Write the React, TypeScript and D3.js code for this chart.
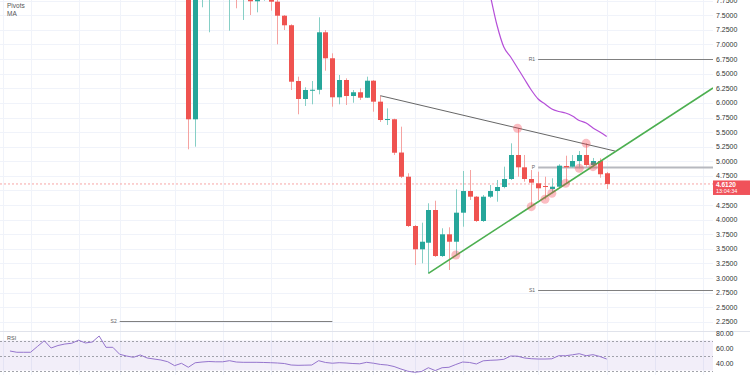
import { useEffect, useRef } from "react";
import * as d3 from "d3";

// candles, index 0 = first candle drawn at the left of the drop
const opens = [8.6, 5.719, 8.1, 8.0, 8.2, 8.1, 7.95, 8.1, 7.9, 8.0, 7.74, 7.8, 7.9, 7.733, 7.493, 7.33, 6.375, 6.067, 6.221, 6.225, 7.209, 6.764, 6.096, 6.392, 6.118, 6.182, 6.089, 6.38, 6.021, 5.707, 5.72, 5.15, 4.736, 3.892, 3.493, 3.606, 4.166, 3.378, 3.75, 3.623, 4.12, 4.491, 4.394, 3.978, 4.394, 4.491, 4.56, 4.697, 5.108, 4.897, 4.697, 4.623, 4.577, 4.526, 4.565, 4.92, 4.908, 5.005, 5.108, 4.937, 5.005, 4.795];
const highs = [8.8, 8.7, 8.5, 8.4, 8.3, 8.3, 8.2, 8.2, 8.1, 8.05, 8.0, 7.98, 7.95, 7.78, 7.505, 7.346, 6.449, 6.267, 6.375, 7.466, 7.248, 6.849, 6.478, 6.421, 6.221, 6.25, 6.449, 6.392, 6.123, 5.907, 5.73, 5.593, 4.795, 3.909, 3.949, 4.281, 4.325, 3.853, 3.87, 4.521, 4.834, 4.851, 4.406, 4.423, 4.594, 4.68, 4.908, 5.308, 5.565, 5.108, 4.851, 4.822, 4.736, 4.709, 4.949, 5.096, 5.108, 5.176, 5.308, 5.057, 5.051, 4.817];
const lows = [5.205, 5.25, 7.637, 7.209, 7.9, 7.85, 7.236, 7.62, 7.42, 7.505, 7.551, 7.75, 7.579, 7.003, 7.248, 6.221, 5.805, 5.947, 5.976, 6.147, 6.551, 5.935, 5.976, 5.964, 6.003, 6.05, 6.084, 5.849, 5.673, 5.622, 5.108, 4.714, 3.875, 3.224, 3.253, 3.082, 3.361, 3.361, 3.139, 3.396, 3.88, 4.337, 3.961, 3.961, 4.372, 4.308, 4.538, 4.68, 4.736, 4.651, 4.223, 4.337, 4.35, 4.452, 4.548, 4.623, 4.885, 4.88, 4.902, 4.908, 4.719, 4.526];
const closes = [5.719, 8.4, 8.3, 8.2, 8.0, 7.95, 8.1, 7.9, 8.0, 7.74, 7.95, 7.9, 7.733, 7.493, 7.329, 6.363, 6.067, 6.221, 6.225, 7.209, 6.764, 6.096, 6.392, 6.118, 6.182, 6.089, 6.38, 6.021, 5.707, 5.724, 5.147, 4.736, 3.892, 3.493, 3.623, 4.166, 3.378, 3.75, 3.623, 4.12, 4.491, 4.394, 3.978, 4.394, 4.491, 4.56, 4.697, 5.108, 4.897, 4.697, 4.634, 4.538, 4.567, 4.565, 4.925, 4.897, 5.005, 5.108, 4.937, 5.005, 4.778, 4.612];

const maStart = 43;
const maValues = [8.3, 7.848, 7.334, 6.957, 6.786, 6.598, 6.409, 6.221, 6.067, 5.981, 5.896, 5.853, 5.827, 5.776, 5.699, 5.656, 5.57, 5.502, 5.425];

const rsiStart = -26;
const rsiValues = [56.0, 54.3, 54.3, 54.3, 62.0, 69.7, 60.0, 63.3, 65.3, 66.3, 70.4, 66.7, 68.0, 76.0, 60.9, 60.9, 51.6, 49.3, 47.6, 50.7, 46.7, 45.3, 44.0, 41.7, 36.5, 39.6, 34.3, 40.3, 41.3, 42.0, 41.6, 41.6, 43.1, 41.3, 40.9, 40.9, 40.9, 40.7, 40.4, 40.0, 39.3, 37.3, 36.9, 37.1, 37.3, 43.1, 40.7, 39.7, 40.4, 40.0, 39.3, 38.9, 40.9, 39.7, 38.1, 37.3, 35.3, 32.0, 29.1, 27.6, 28.7, 33.7, 29.9, 33.7, 34.3, 38.0, 41.3, 40.7, 38.7, 42.9, 43.6, 44.0, 44.9, 49.3, 49.1, 46.7, 45.7, 45.3, 45.3, 45.6, 49.7, 49.7, 50.9, 52.4, 49.7, 51.1, 48.7, 45.3];

const priceTicks = [2.25, 2.5, 2.75, 3.0, 3.25, 3.5, 3.75, 4.0, 4.25, 4.5, 4.75, 5.0, 5.25, 5.5, 5.75, 6.0, 6.25, 6.5, 6.75, 7.0, 7.25, 7.5, 7.75];
const rsiTicks = [80, 60, 40];
const rsiLevels = [70, 50, 30];
const gridIdx = [-27, -23, -16, -10, -2, 5, 12, 21, 27, 33, 40, 51, 61, 68, 75];

const pivotNames = ["R1", "P", "S1", "S2"];
const pivotValues = [6.752, 4.908, 2.796, 2.27];
const pivotFrom = [51, 51, 51, -10];
const pivotTo = [76.5, 76.5, 76.5, 21];

const resistance: [number, number][] = [[28, 6.123], [62.2, 5.176]];
const support: [number, number][] = [[35, 3.082], [76.5, 6.255]];
const markerLows = [39, 50, 52, 53, 55, 57, 59];
const markerHighs = [48, 58];

const lastPrice = 4.612;
const countdown = "13:04:34";

export default function App() {
  const ref = useRef<SVGSVGElement>(null);

  useEffect(() => {
    if (!ref.current) return;
    const svg = d3.select(ref.current);
    svg.selectAll("*").remove();
    const plotRight = 713;
    const paneSplit = 331;
    const up = "#26a69a";
    const down = "#ef5350";
    const font = "Liberation Sans, Arial, sans-serif";

    const x = d3.scaleLinear().domain([0, 61]).range([188.3, 606.7]);
    const y = d3.scaleLinear().domain([2.25, 7.75]).range([321.9, 0.7]);
    const yr = d3.scaleLinear().domain([30, 70]).range([370.5, 340.5]);

    const defs = svg.append("defs");
    defs.append("clipPath").attr("id", "mainClip")
      .append("rect").attr("x", 0).attr("y", 0).attr("width", plotRight).attr("height", paneSplit);
    defs.append("clipPath").attr("id", "rsiClip")
      .append("rect").attr("x", 0).attr("y", paneSplit).attr("width", plotRight).attr("height", 375 - paneSplit);

    svg.append("rect").attr("width", 750).attr("height", 375).attr("fill", "#fff");

    // grid
    const grid = svg.append("g").attr("stroke", "#f0f3fa").attr("stroke-width", 1);
    grid.selectAll("line.v").data(gridIdx).enter().append("line")
      .attr("x1", (d) => Math.round(x(d)) + 0.5).attr("x2", (d) => Math.round(x(d)) + 0.5)
      .attr("y1", 0).attr("y2", 375);
    grid.selectAll("line.h").data(priceTicks).enter().append("line")
      .attr("x1", 0).attr("x2", plotRight)
      .attr("y1", (d) => Math.round(y(d)) + 0.5).attr("y2", (d) => Math.round(y(d)) + 0.5);
    svg.append("line").attr("x1", 0).attr("x2", 750).attr("y1", paneSplit + 0.5).attr("y2", paneSplit + 0.5)
      .attr("stroke", "#e0e3eb");

    const main = svg.append("g").attr("clip-path", "url(#mainClip)");

    // pivots
    pivotNames.forEach((name, i) => {
      const yy = Math.round(y(pivotValues[i])) + 0.5;
      main.append("line")
        .attr("x1", x(pivotFrom[i])).attr("x2", x(pivotTo[i]))
        .attr("y1", yy).attr("y2", yy)
        .attr("stroke", name === "P" ? "#b7b9bf" : "#808080")
        .attr("stroke-width", name === "P" ? 2 : 1);
      main.append("text")
        .attr("x", x(pivotFrom[i]) - 3).attr("y", yy).attr("dy", "0.35em")
        .attr("text-anchor", "end").attr("font-size", 5).attr("font-family", font)
        .attr("fill", "#666").text(name);
    });

    // current price line
    main.append("line")
      .attr("x1", 0).attr("x2", plotRight)
      .attr("y1", y(lastPrice)).attr("y2", y(lastPrice))
      .attr("stroke", "#f7a5a5").attr("stroke-dasharray", "2,2");

    // candles
    const idx = d3.range(closes.length);
    main.selectAll("line.wick").data(idx).enter().append("line")
      .attr("x1", (i) => Math.round(x(i)) + 0.5).attr("x2", (i) => Math.round(x(i)) + 0.5)
      .attr("y1", (i) => y(highs[i])).attr("y2", (i) => y(lows[i]))
      .attr("stroke", (i) => (closes[i] >= opens[i] ? "#86cfc6" : "#f5a3a1"));
    main.selectAll("rect.body").data(idx).enter().append("rect")
      .attr("x", (i) => Math.round(x(i)) - 2)
      .attr("width", 5)
      .attr("y", (i) => y(Math.max(opens[i], closes[i])))
      .attr("height", (i) => Math.max(1, Math.abs(y(opens[i]) - y(closes[i]))))
      .attr("fill", (i) => (closes[i] >= opens[i] ? up : down));

    // MA
    const ma = d3.line<number>().x((_d, i) => x(maStart + i)).y((d) => y(d)).curve(d3.curveMonotoneX);
    main.append("path").datum(maValues).attr("d", ma)
      .attr("fill", "none").attr("stroke", "#b54fd8").attr("stroke-width", 1.2);

    // trend lines
    const tl = d3.line<[number, number]>().x((d) => x(d[0])).y((d) => y(d[1]));
    main.append("path").datum(resistance).attr("d", tl).attr("stroke", "#555").attr("stroke-width", 0.9).attr("fill", "none");
    main.append("path").datum(support).attr("d", tl).attr("stroke", "#4caf50").attr("stroke-width", 1.6).attr("fill", "none");

    // pivot markers
    const mk = main.append("g").attr("fill", "#f23645").attr("fill-opacity", 0.33);
    mk.selectAll("circle.lo").data(markerLows).enter().append("circle")
      .attr("cx", (i) => x(i)).attr("cy", (i) => y(lows[i])).attr("r", 4.5);
    mk.selectAll("circle.hi").data(markerHighs).enter().append("circle")
      .attr("cx", (i) => x(i)).attr("cy", (i) => y(highs[i])).attr("r", 4.5);

    // legend
    svg.append("text").attr("x", 7).attr("y", 8).attr("font-size", 6.5).attr("font-family", font).attr("fill", "#555").text("Pivots");
    svg.append("text").attr("x", 7).attr("y", 16).attr("font-size", 6.5).attr("font-family", font).attr("fill", "#555").text("MA");

    // price axis labels (the one under the last-price box is hidden)
    const yl = y(lastPrice);
    const boxTop = yl - 3.5;
    const boxBottom = yl + 11;
    svg.selectAll("text.pt").data(priceTicks.filter((d) => y(d) + 4 < boxTop || y(d) - 4 > boxBottom)).enter().append("text")
      .attr("x", 716).attr("y", (d) => y(d)).attr("dy", "0.35em")
      .attr("font-size", 7).attr("font-family", font).attr("fill", "#333")
      .text((d) => d3.format(".4f")(d));

    // last price box
    svg.append("rect").attr("x", 713).attr("y", boxTop).attr("width", 37).attr("height", boxBottom - boxTop).attr("fill", "#f0525a");
    svg.append("text").attr("x", 716).attr("y", yl + 1.2).attr("dy", "0.35em")
      .attr("font-size", 6.5).attr("font-weight", "bold").attr("font-family", font).attr("fill", "#fff")
      .text(d3.format(".4f")(lastPrice));
    svg.append("text").attr("x", 716).attr("y", yl + 7.6).attr("dy", "0.35em")
      .attr("font-size", 5.5).attr("font-family", font).attr("fill", "#fff").text(countdown);

    // RSI pane
    const rsi = svg.append("g").attr("clip-path", "url(#rsiClip)");
    rsi.append("rect").attr("x", 0).attr("width", plotRight)
      .attr("y", yr(70)).attr("height", yr(30) - yr(70)).attr("fill", "#7e57c2").attr("fill-opacity", 0.1);
    rsi.selectAll("line.lvl").data(rsiLevels).enter().append("line")
      .attr("x1", 0).attr("x2", plotRight)
      .attr("y1", (d) => Math.round(yr(d)) + 0.5).attr("y2", (d) => Math.round(yr(d)) + 0.5)
      .attr("stroke", "#8a8d96").attr("stroke-dasharray", "2,2").attr("stroke-width", 0.8);
    const rl = d3.line<number>().x((_d, i) => x(rsiStart + i)).y((d) => yr(d));
    rsi.append("path").datum(rsiValues).attr("d", rl)
      .attr("fill", "none").attr("stroke", "#9575cd").attr("stroke-width", 1);
    svg.append("text").attr("x", 7).attr("y", 340).attr("font-size", 5.5).attr("font-family", font).attr("fill", "#555").text("RSI");
    svg.selectAll("text.rt").data(rsiTicks).enter().append("text")
      .attr("x", 716).attr("y", (d) => yr(d) + 0.5).attr("dy", "0.35em")
      .attr("font-size", 7).attr("font-family", font).attr("fill", "#333")
      .text((d) => d3.format(".2f")(d));
  }, []);

  return (
    <div style={{ position: "fixed", left: 0, top: 0, width: 750, height: 375 }}>
      <svg ref={ref} width={750} height={375} style={{ display: "block" }} />
    </div>
  );
}
